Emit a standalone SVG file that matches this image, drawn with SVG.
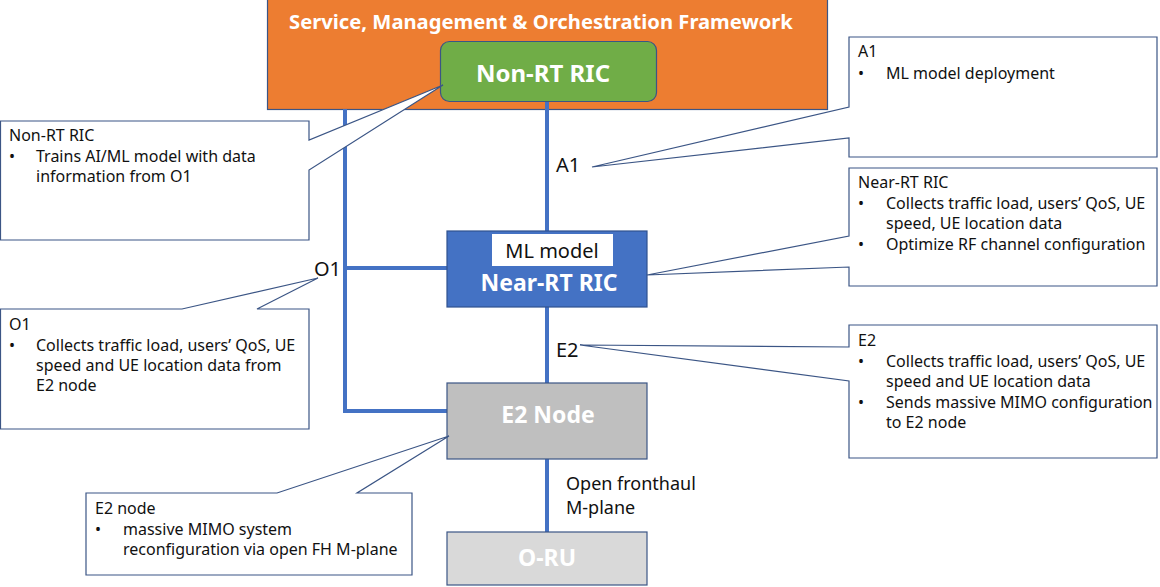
<svg xmlns="http://www.w3.org/2000/svg" width="1160" height="587" viewBox="0 0 1160 587">
<defs>
<style>
.conn{stroke:#4472C4;stroke-width:4;fill:none}
.callout{fill:#fff;stroke:#3B5585;stroke-width:1.2;stroke-linejoin:miter}
.ct{font-family:"Noto Sans","Liberation Sans",sans-serif;font-size:16px;fill:#111}
.lbl{font-family:"Noto Sans","Liberation Sans",sans-serif;font-size:20px;fill:#111}
.bold{font-family:"Noto Sans","Liberation Sans",sans-serif;font-weight:bold;font-size:23px;fill:#fff;text-anchor:middle}
</style>
</defs>
<rect width="1160" height="587" fill="#fff"/>

<g id="smo">
<rect x="267.5" y="-1" width="560" height="110.5" fill="#ED7D31" stroke="#3B5585" stroke-width="1.2"/>
<text x="541" y="29" font-family="Noto Sans, Liberation Sans, sans-serif" font-weight="bold" font-size="20.2" fill="#fff" text-anchor="middle">Service, Management &amp; Orchestration Framework</text>
</g>

<g id="connectors">
<line class="conn" x1="547" y1="102" x2="547" y2="231"/>
<polyline class="conn" points="345,109 345,411 447,411"/>
<line class="conn" x1="345" y1="268" x2="447" y2="268"/>
<line class="conn" x1="547" y1="307" x2="547" y2="383"/>
<line class="conn" x1="547" y1="459" x2="547" y2="532"/>
</g>

<g id="non-rt-ric">
<rect x="440.5" y="41.5" width="216" height="60" rx="9" fill="#70AD47" stroke="#3B5585" stroke-width="1.2"/>
<text class="bold" x="543" y="82" style="font-size:24px">Non-RT RIC</text>
</g>

<g id="near-rt-ric">
<rect x="447" y="231" width="200" height="76" fill="#4472C4" stroke="#2F528F" stroke-width="1.2"/>
<rect x="492" y="234" width="121" height="32" fill="#fff"/>
<text x="552" y="258" font-family="Noto Sans, Liberation Sans, sans-serif" font-size="20" fill="#111" text-anchor="middle">ML model</text>
<text class="bold" x="549" y="291">Near-RT RIC</text>
</g>

<g id="e2-node">
<rect x="447" y="383" width="200" height="76" fill="#BFBFBF" stroke="#3B5585" stroke-width="1.2"/>
<text class="bold" x="548" y="423">E2 Node</text>
</g>

<g id="o-ru">
<rect x="447" y="532" width="200" height="53" fill="#D9D9D9" stroke="#3B5585" stroke-width="1.2"/>
<text class="bold" x="547" y="566">O-RU</text>
</g>

<g id="labels">
<text class="lbl" x="556" y="172">A1</text>
<text class="lbl" x="314" y="276">O1</text>
<text class="lbl" x="556" y="357">E2</text>
<text class="lbl" x="566" y="490" style="font-size:18px">Open fronthaul</text>
<text class="lbl" x="566" y="514" style="font-size:18px">M-plane</text>
</g>

<g id="callout-non-rt">
<path class="callout" d="M0.5,121 H309 V140 L443,85 L309,170 V240 H0.5 Z"/>
<text class="ct" x="9" y="141">Non-RT RIC</text>
<text class="ct" x="9" y="162">•</text>
<text class="ct" x="36" y="162">Trains AI/ML model with data</text>
<text class="ct" x="36" y="182">information from O1</text>
</g>

<g id="callout-o1">
<path class="callout" d="M0.5,309 H182 L318,278 L257,309 H309 V429 H0.5 Z"/>
<text class="ct" x="9" y="330">O1</text>
<text class="ct" x="9" y="351">•</text>
<text class="ct" x="36" y="351">Collects traffic load, users’ QoS, UE</text>
<text class="ct" x="36" y="371">speed and UE location data from</text>
<text class="ct" x="36" y="391">E2 node</text>
</g>

<g id="callout-e2-node">
<path class="callout" d="M86,493 H277 L449,436 L357,493 H412 V575 H86 Z"/>
<text class="ct" x="95" y="514">E2 node</text>
<text class="ct" x="95" y="535">•</text>
<text class="ct" x="123" y="535">massive MIMO system</text>
<text class="ct" x="123" y="555">reconfiguration via open FH M-plane</text>
</g>

<g id="callout-a1">
<path class="callout" d="M849,37 H1157 V157 H849 V138 L592,167 L849,107 Z"/>
<text class="ct" x="858" y="57">A1</text>
<text class="ct" x="858" y="79">•</text>
<text class="ct" x="886" y="79">ML model deployment</text>
</g>

<g id="callout-near-rt">
<path class="callout" d="M849,168 H1157 V286 H849 V267 L647,275 L849,236 Z"/>
<text class="ct" x="858" y="188">Near-RT RIC</text>
<text class="ct" x="858" y="209">•</text>
<text class="ct" x="886" y="209">Collects traffic load, users’ QoS, UE</text>
<text class="ct" x="886" y="229">speed, UE location data</text>
<text class="ct" x="858" y="250">•</text>
<text class="ct" x="886" y="250">Optimize RF channel configuration</text>
</g>

<g id="callout-e2">
<path class="callout" d="M849,325 H1157 V458 H849 V381 L580,345 L849,347 Z"/>
<text class="ct" x="858" y="346">E2</text>
<text class="ct" x="858" y="367">•</text>
<text class="ct" x="886" y="367">Collects traffic load, users’ QoS, UE</text>
<text class="ct" x="886" y="387">speed and UE location data</text>
<text class="ct" x="858" y="408">•</text>
<text class="ct" x="886" y="408">Sends massive MIMO configuration</text>
<text class="ct" x="886" y="428">to E2 node</text>
</g>
</svg>
